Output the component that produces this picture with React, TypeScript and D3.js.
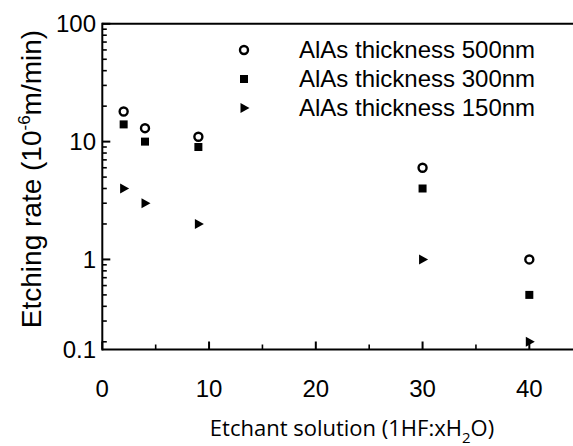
import React from "react";
import * as d3 from "d3";

const xValues = [2, 4, 9, 30, 40];
const rate500 = [18, 13, 11, 6, 1];
const rate300 = [14, 10, 9, 4, 0.5];
const rate150 = [4, 3, 2, 1, 0.2];
const legendLabels = ["AlAs thickness 500nm", "AlAs thickness 300nm", "AlAs thickness 150nm"];
const xMajorTicks = [0, 10, 20, 30, 40];
const xMinorTicks = [5, 15, 25, 35, 45];
const yMajorTicks = [0.1, 1, 10, 100];
const yTickLabels = ["0.1", "1", "10", "100"];
const xDomain = [0, 45];
const yDomain = [0.172, 100];

const W = 573;
const H = 446;
const FONT = "'Liberation Sans', Arial, sans-serif";

function Marker({ kind, cx, cy }: { kind: string; cx: number; cy: number }) {
  if (kind === "circle")
    return <circle cx={cx} cy={cy} r={4} fill="#fff" stroke="#000" strokeWidth={2.4} />;
  if (kind === "square")
    return <rect x={cx - 4} y={cy - 4} width={8} height={8} fill="#000" />;
  return <path transform={`translate(${cx},${cy})`} d="M-3.5,-5L5.5,0L-3.5,5Z" fill="#000" />;
}

export default function App() {
  const x = d3.scaleLinear().domain(xDomain).range([102.3, 582.7]);
  const y = d3.scaleLog().domain(yDomain).range([349.5, 23.8]);
  const x0 = x(0);
  const yb = y(yDomain[0]);
  const yt = y(yDomain[1]);

  const minor: number[] = [];
  [0.1, 1, 10].forEach((d) => {
    for (let m = 2; m <= 9; m++) {
      const v = d * m;
      if (v >= yDomain[0] && v <= yDomain[1]) minor.push(v);
    }
  });

  const series = [
    { kind: "circle", vals: rate500 },
    { kind: "square", vals: rate300 },
    { kind: "triangle", vals: rate150 },
  ];

  return (
    <svg
      width={W}
      height={H}
      style={{ position: "absolute", left: 0, top: 0, background: "#fff" }}
      fontFamily={FONT}
    >
      <rect width={W} height={H} fill="#fff" />
      {/* frame */}
      <line x1={x0} x2={W} y1={yt} y2={yt} stroke="#000" strokeWidth={2} />
      <line x1={x0} x2={W} y1={yb} y2={yb} stroke="#000" strokeWidth={2} />
      <line x1={x0} x2={x0} y1={yt - 1} y2={yb + 1} stroke="#000" strokeWidth={2} />

      {/* y ticks */}
      {yMajorTicks.map((v, i) => {
        const yy = y(Math.max(v, yDomain[0]));
        return (
          <g key={"ym" + i}>
            {v >= yDomain[0] && <line x1={x0} x2={x0 + 8} y1={yy} y2={yy} stroke="#000" strokeWidth={2} />}
            <text x={96} y={yy} dy="0.35em" textAnchor="end" fontSize={24} fill="#000">
              {yTickLabels[i]}
            </text>
          </g>
        );
      })}
      {minor.map((v, i) => (
        <line key={"yn" + i} x1={x0} x2={x0 + 4.5} y1={y(v)} y2={y(v)} stroke="#000" strokeWidth={1.6} />
      ))}

      {/* x ticks */}
      {xMajorTicks.map((v) => (
        <g key={"xm" + v}>
          <line x1={x(v)} x2={x(v)} y1={yb} y2={yb - 8} stroke="#000" strokeWidth={2} />
          <text x={x(v)} y={397} textAnchor="middle" fontSize={24} fill="#000">
            {v}
          </text>
        </g>
      ))}
      {xMinorTicks.map((v) => (
        <line key={"xn" + v} x1={x(v)} x2={x(v)} y1={yb} y2={yb - 5} stroke="#000" strokeWidth={1.6} />
      ))}

      {/* data */}
      {series.map((s) =>
        s.vals.map((v, i) => <Marker key={s.kind + i} kind={s.kind} cx={x(xValues[i])} cy={y(v)} />)
      )}

      {/* legend */}
      {series.map((s, i) => (
        <g key={"lg" + i}>
          <Marker kind={s.kind} cx={244} cy={50 + i * 29} />
          <text x={299} y={50 + i * 29} dy="0.35em" fontSize={24} fill="#000">
            {legendLabels[i]}
          </text>
        </g>
      ))}

      {/* axis titles */}
      <text transform="translate(41,179) rotate(-90)" textAnchor="middle" fontSize={28} fill="#000">
        Etching rate (10
        <tspan fontSize={17} dy={-11}>-6</tspan>
        <tspan dy={11}>m/min)</tspan>
      </text>
      <text x={352} y={436} textAnchor="middle" fontSize={22} fill="#000" fontFamily="'Open Sans', 'Noto Sans', sans-serif">
        Etchant solution (1HF:xH
        <tspan fontSize={15} dy={7}>2</tspan>
        <tspan dy={-7}>O)</tspan>
      </text>
    </svg>
  );
}
